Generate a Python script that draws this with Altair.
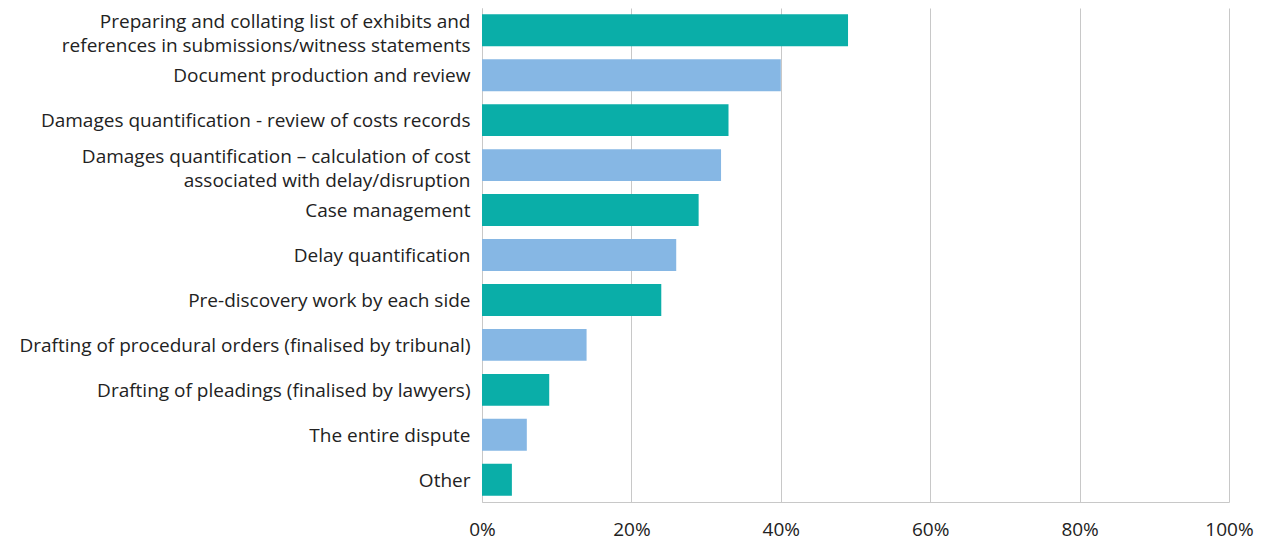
import altair as alt
import pandas as pd

categories = [
    "Preparing and collating list of exhibits and\nreferences in submissions/witness statements",
    "Document production and review",
    "Damages quantification - review of costs records",
    "Damages quantification – calculation of cost\nassociated with delay/disruption",
    "Case management",
    "Delay quantification",
    "Pre-discovery work by each side",
    "Drafting of procedural orders (finalised by tribunal)",
    "Drafting of pleadings (finalised by lawyers)",
    "The entire dispute ",
    "Other",
]
values = [49, 40, 33, 32, 29, 26, 24, 14, 9, 6, 4]
groups = ["a", "b", "a", "b", "a", "b", "a", "b", "a", "b", "a"]

df = pd.DataFrame({"category": categories, "value": [v / 100 for v in values], "group": groups})

FONT = "Open Sans"

chart = alt.Chart(df).mark_bar().encode(
    x=alt.X("value:Q",
            scale=alt.Scale(domain=[0, 1], nice=False),
            axis=alt.Axis(format="%", values=[0, 0.2, 0.4, 0.6, 0.8, 1.0], title=None,
                          grid=True, gridColor="#c8c8c8", domainColor="#c8c8c8",
                          ticks=False, labelPadding=18, labelFontSize=19,
                          labelColor="#222222", labelFont=FONT, labelFlush=False)),
    y=alt.Y("category:N", sort=categories,
            scale=alt.Scale(paddingInner=0.29, paddingOuter=0.14),
            axis=alt.Axis(title=None, ticks=False, labelPadding=12, labelFontSize=19,
                          labelColor="#222222", labelFont=FONT, labelLimit=0,
                          labelExpr="split(datum.label, '\\n')", labelLineHeight=24,
                          labelOffset={"condition": {"test": "indexof(datum.value, '\\n') >= 0", "value": -8},
                                       "value": 1},
                          domainColor="#c8c8c8")),
    color=alt.Color("group:N", scale=alt.Scale(domain=["a", "b"], range=["#0aaea8", "#86b7e4"]),
                    legend=None),
).properties(
    width=747, height=494,
    autosize=alt.AutoSizeParams(type="none"),
    padding={"left": 474, "top": 0, "right": 30, "bottom": 40},
).configure_view(stroke=None)

chart.save("out.html", embed_options={"renderer": "svg", "actions": False})
